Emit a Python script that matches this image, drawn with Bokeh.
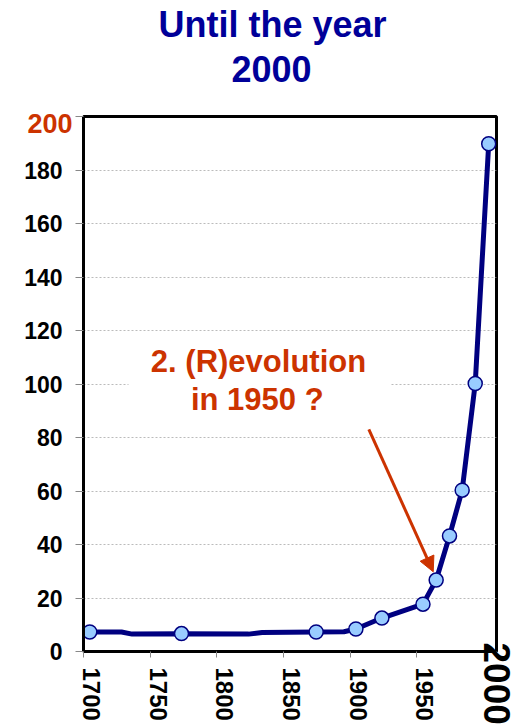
from bokeh.plotting import figure
from bokeh.models import (FixedTicker, Label, Arrow, NormalHead, BoxAnnotation,
                          LinearAxis, Range1d, Title, Grid)
from bokeh.embed import file_html
from bokeh.resources import INLINE

# ---- data ----
marker_years = [1704.7, 1773.5, 1874.5, 1904.3, 1923.8, 1954.6, 1964.5, 1974.5, 1984.0, 1993.8, 2003.9]
marker_values = [7.3, 6.7, 7.3, 8.4, 12.5, 17.7, 26.7, 43.2, 60.3, 100.2, 189.8]

line_years = [1704.7, 1728.5, 1736.5, 1773.5, 1823.8, 1834.0, 1874.5, 1895.3,
              1904.3, 1923.8, 1954.6, 1964.5, 1974.5, 1984.0, 1993.8, 2003.9]
line_values = [7.3, 7.3, 6.5, 6.6, 6.5, 7.1, 7.3, 7.4,
               8.4, 12.5, 17.7, 26.7, 43.2, 60.3, 100.2, 189.8]

x_tick_years = [1700, 1750, 1800, 1850, 1900, 1950]
x_tick_labels = ["1700", "1750", "1800", "1850", "1900", "1950"]
last_tick_label = "2000"
y_ticks = [0, 20, 40, 60, 80, 100, 120, 140, 160, 180, 200]
top_tick_label = "200"

title_lines = ["Until the year", "2000"]
note_lines = ["2. (R)evolution", "in 1950 ?"]

NAVY = "#000080"
TITLE = "#000099"
RED = "#cc3300"
FONT = "Liberation Sans"

X0, X1 = 1700, 2009.75
p = figure(width=516, height=728, output_backend="svg", toolbar_location=None,
           x_range=(X0, X1), y_range=(0, 200),
           x_axis_location=None, y_axis_location=None,
           min_border_left=83, min_border_right=20, min_border_top=116,
           min_border_bottom=77)
p.background_fill_color = "white"
p.border_fill_color = "white"
p.outline_line_color = "black"
p.outline_line_width = 3
for g in p.grid:
    g.visible = False

# shifted range used only to place the year texts beside their ticks
p.extra_x_ranges = {"lab": Range1d(X0 - 6, X1 - 6)}
p.extra_y_ranges = {"red": Range1d(2.8, 202.8)}

# ---- bottom: tick marks + big "2000" ----
xa = LinearAxis(ticker=FixedTicker(ticks=x_tick_years + [X1]))
xa.major_label_overrides = {**{y: "" for y in x_tick_years}, X1: last_tick_label}
xa.major_label_orientation = "vertical"
xa.major_tick_out = 6
xa.major_tick_in = 0
xa.minor_tick_line_color = None
xa.major_tick_line_color = "#888888"
xa.axis_line_width = 3
xa.axis_line_color = "black"
xa.major_label_standoff = -15
xa.major_label_text_font = FONT
xa.major_label_text_font_style = "bold"
xa.major_label_text_font_size = "37px"
xa.major_label_text_color = "black"
p.add_layout(xa, "below")

# ---- bottom: year labels ----
xl = LinearAxis(x_range_name="lab", ticker=FixedTicker(ticks=x_tick_years))
xl.major_label_overrides = dict(zip(x_tick_years, x_tick_labels))
xl.major_label_orientation = "vertical"
xl.major_tick_out = 0
xl.major_tick_in = 0
xl.major_tick_line_color = None
xl.minor_tick_line_color = None
xl.axis_line_color = None
xl.major_label_standoff = -60
xl.major_label_text_font = FONT
xl.major_label_text_font_style = "bold"
xl.major_label_text_font_size = "24px"
xl.major_label_text_color = "black"
p.add_layout(xl, "below")

# ---- left axis ----
ya = LinearAxis(ticker=FixedTicker(ticks=y_ticks))
ya.major_label_overrides = {200: ""}
ya.major_tick_out = 8
ya.major_tick_in = 0
ya.minor_tick_line_color = None
ya.major_tick_line_color = "#888888"
ya.axis_line_width = 3
ya.axis_line_color = "black"
ya.major_label_standoff = 13
ya.major_label_text_font = FONT
ya.major_label_text_font_style = "bold"
ya.major_label_text_font_size = "23px"
ya.major_label_text_color = "black"
p.add_layout(ya, "left")

yr = LinearAxis(y_range_name="red", ticker=FixedTicker(ticks=[200]))
yr.major_label_overrides = {200: top_tick_label}
yr.major_tick_out = 0
yr.major_tick_in = 0
yr.major_tick_line_color = None
yr.minor_tick_line_color = None
yr.axis_line_color = None
yr.major_label_standoff = -51
yr.major_label_text_font = FONT
yr.major_label_text_font_style = "bold"
yr.major_label_text_font_size = "27px"
yr.major_label_text_color = RED
p.add_layout(yr, "left")

# ---- grid ----
p.add_layout(Grid(dimension=1, ticker=FixedTicker(ticks=y_ticks[1:-1]),
                  grid_line_color="#bbbbbb", grid_line_dash="2 2",
                  grid_line_width=1))

# white box behind the annotation text
p.add_layout(BoxAnnotation(left=1733.75, right=1930, bottom=95, top=116,
                           fill_color="white", fill_alpha=1.0, line_color=None,
                           level="underlay"))

# ---- title (outermost = p.title) ----
p.title = Title(text=title_lines[0], align="left", offset=75,
                text_font=FONT, text_font_style="bold", text_font_size="36px",
                text_color=TITLE, standoff=0)
p.add_layout(Title(text=" ", text_font_size="20px", standoff=2), "above")
p.add_layout(Title(text=title_lines[1], align="left", offset=148,
                   text_font=FONT, text_font_style="bold", text_font_size="36px",
                   text_color=TITLE, standoff=18), "above")

# ---- data ----
p.line(line_years, line_values, line_color=NAVY, line_width=5)
p.scatter(marker_years, marker_values, size=14, fill_color="#99ccff",
          line_color=NAVY, line_width=1.5)

# ---- annotation ----
for txt, xx, yy in zip(note_lines, [1831.25, 1830.3], [108.5, 94.1]):
    p.add_layout(Label(x=xx, y=yy, text=txt, text_align="center",
                       text_baseline="alphabetic", text_font=FONT,
                       text_font_style="bold", text_font_size="31px",
                       text_color=RED))

p.add_layout(Arrow(end=NormalHead(size=15, fill_color=RED, line_color=RED),
                   x_start=1914, y_start=83, x_end=1962.3, y_end=29.8,
                   line_color=RED, line_width=3))

open("out.html", "w").write(file_html(p, INLINE))
